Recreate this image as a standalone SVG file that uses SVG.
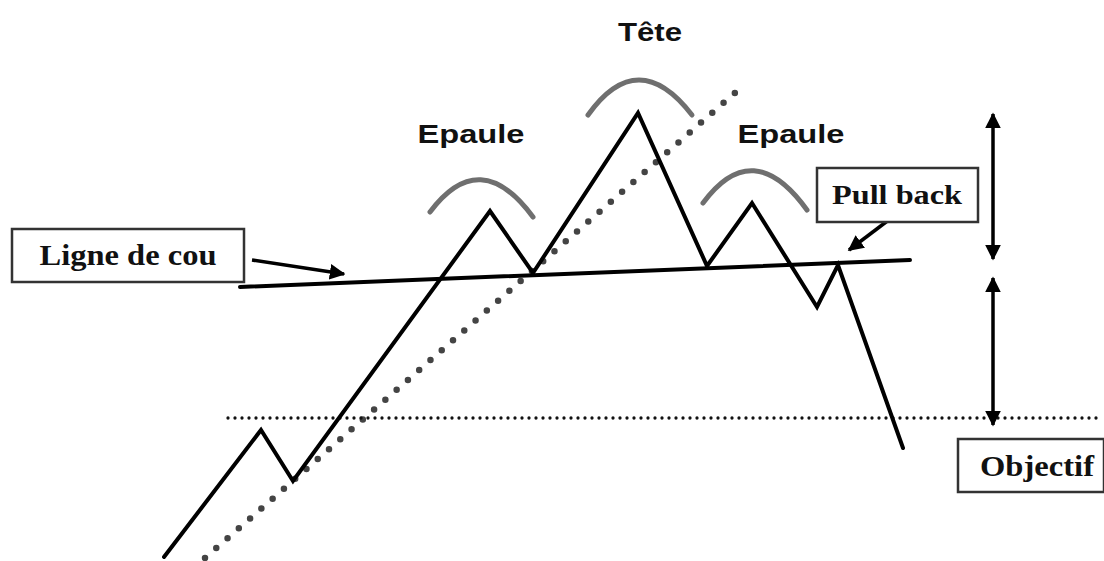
<svg xmlns="http://www.w3.org/2000/svg" width="1104" height="561" viewBox="0 0 1104 561">
<defs>
<marker id="ah" viewBox="0 0 10 10" refX="9" refY="5" markerWidth="4.5" markerHeight="4.5" orient="auto-start-reverse" markerUnits="strokeWidth">
<path d="M0,0 L10,5 L0,10 Z" fill="#000"/>
</marker>
<style>
.line{fill:none;stroke:#000;stroke-width:4;stroke-linejoin:miter;stroke-linecap:round}
.arc{fill:none;stroke:#6f6f6f;stroke-width:5;stroke-linecap:round}
.box{fill:#fff;stroke:#333;stroke-width:2.5}
.serif{font-family:"Liberation Serif","Times New Roman",serif;font-weight:bold;fill:#111}
.sans{font-family:"Liberation Sans",Arial,sans-serif;font-weight:bold;fill:#111}
.arr{fill:none;stroke:#000;stroke-width:3.5}
</style>
</defs>
<rect width="1104" height="561" fill="#fff"/>
<g id="connectors">
<line x1="205" y1="558" x2="745" y2="84" stroke="#444" stroke-width="6.5" stroke-linecap="round" stroke-dasharray="0 15"/>
<line x1="228" y1="418" x2="1102" y2="418" stroke="#111" stroke-width="3.3" stroke-linecap="round" stroke-dasharray="0 7"/>
<line id="neckline" class="line" x1="240" y1="287" x2="910" y2="260"/>
<polyline id="price" class="line" points="164,557 261,430 293,481 490,211 533,273 638,113 707,266 752,203 817,307 838,265 903,448"/>
<path class="arc" d="M430,212 Q480,145 533,217"/>
<path class="arc" d="M588,115 Q638,45 692,115"/>
<path class="arc" d="M703,203 Q753,135 807,210"/>
<line class="arr" x1="252" y1="260" x2="344" y2="274" marker-end="url(#ah)"/>
<line class="arr" x1="890" y1="219" x2="849" y2="250" stroke-width="3" marker-end="url(#ah)"/>
<line class="arr" x1="993" y1="114" x2="993" y2="259" marker-start="url(#ah)" marker-end="url(#ah)"/>
<line class="arr" x1="993" y1="278" x2="993" y2="425" marker-start="url(#ah)" marker-end="url(#ah)"/>
</g>
<g id="tete"><text class="sans" x="650" y="41" font-size="26" text-anchor="middle" textLength="64" lengthAdjust="spacingAndGlyphs">Tête</text></g>
<g id="epaule-gauche"><text class="sans" x="471" y="143" font-size="25" text-anchor="middle" textLength="107" lengthAdjust="spacingAndGlyphs">Epaule</text></g>
<g id="epaule-droite"><text class="sans" x="791" y="143" font-size="25" text-anchor="middle" textLength="107" lengthAdjust="spacingAndGlyphs">Epaule</text></g>
<g id="ligne-de-cou">
<rect class="box" x="12" y="229" width="232" height="53"/>
<text class="serif" x="128" y="265" font-size="29" text-anchor="middle" textLength="177" lengthAdjust="spacingAndGlyphs">Ligne de cou</text>
</g>
<g id="pull-back">
<rect class="box" x="817" y="168" width="161" height="54"/>
<text class="serif" x="897" y="204" font-size="27" text-anchor="middle" textLength="130" lengthAdjust="spacingAndGlyphs">Pull back</text>
</g>
<g id="objectif">
<rect class="box" x="958" y="439" width="146" height="53"/>
<text class="serif" x="1037" y="476" font-size="29" text-anchor="middle" textLength="114" lengthAdjust="spacingAndGlyphs">Objectif</text>
</g>
</svg>
